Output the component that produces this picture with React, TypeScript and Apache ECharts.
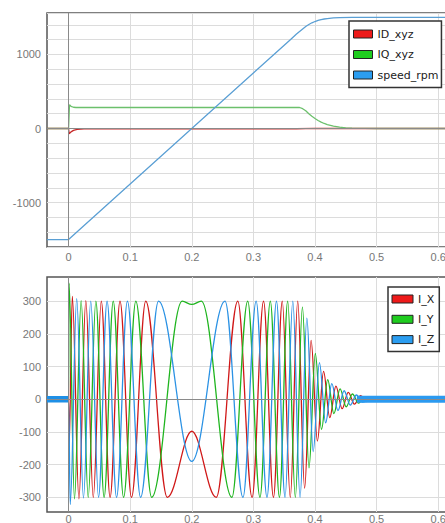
import React, { useEffect, useRef } from "react";
import * as echarts from "echarts";

// ---------- top panel (dq currents and speed) ----------
const speedTimes = [-0.035, 0, 0.36, 0.37, 0.38, 0.385, 0.39, 0.395, 0.4, 0.405, 0.41, 0.415, 0.42, 0.43, 0.44, 0.46, 0.65];
const speedValues = [-1500, -1500, 1200, 1275, 1345, 1378, 1405, 1428, 1445, 1460, 1470, 1479, 1485, 1493, 1497, 1500, 1500];

const iqTimes = [-0.035, 0, 0.0015, 0.004, 0.008, 0.012, 0.375, 0.38, 0.385, 0.39, 0.395, 0.4, 0.405, 0.41, 0.415, 0.42, 0.43, 0.44, 0.45, 0.46, 0.48, 0.5, 0.65];
const iqValues = [0, 0, 320, 300, 287, 284, 284, 268, 240, 200, 165, 135, 108, 86, 68, 54, 33, 18, 9, 4, 1, 0, 0];

const idTimes = [-0.035, 0, 0.001, 0.004, 0.008, 0.014, 0.025, 0.05, 0.37, 0.4, 0.45, 0.65];
const idValues = [0, 0, -70, -45, -25, -12, -5, -3, -3, 2, 0, 0];

// ---------- bottom panel (phase currents, extrema) ----------
const ixTimes = [-0.035, 0, 0.0008, 0.0061, 0.0168, 0.028, 0.0401, 0.0531, 0.0674, 0.0835, 0.1021, 0.1253, 0.1603, 0.2, 0.2397, 0.2747, 0.2979, 0.3165, 0.3326, 0.3469, 0.3599, 0.372, 0.3832, 0.3937, 0.4039, 0.4139, 0.424, 0.434, 0.444, 0.454, 0.464, 0.474, 0.484, 0.49];
const ixValues = [0, 0, -150, 315, -305, 302, -300, 300, -300, 300, -300, 300, -300, -98, -300, 300, -300, 300, -300, 300, -300, 300, -272, 180, -128, 85, -56, 40, -29, 21, -15, 11, -7, 0];

const iyTimes = [-0.035, 0, 0.0008, 0.0096, 0.0204, 0.0319, 0.0443, 0.0577, 0.0725, 0.0893, 0.1092, 0.1349, 0.1844, 0.2, 0.2156, 0.2651, 0.2908, 0.3107, 0.3275, 0.3423, 0.3557, 0.3681, 0.3796, 0.3903, 0.4005, 0.4106, 0.4206, 0.4307, 0.4407, 0.4507, 0.4607, 0.4707, 0.4807, 0.49];
const iyValues = [0, 0, 355, -305, 302, -300, 300, -300, 300, -300, 300, -300, 300, 290, 300, -300, 300, -300, 300, -300, 300, -300, 282, -210, 140, -92, 60, -44, 32, -23, 16, -12, 8, 0];

const izTimes = [-0.035, 0, 0.0027, 0.0132, 0.0242, 0.036, 0.0486, 0.0625, 0.0779, 0.0955, 0.1169, 0.146, 0.2, 0.254, 0.2831, 0.3045, 0.3221, 0.3375, 0.3514, 0.364, 0.3758, 0.3868, 0.3971, 0.4072, 0.4173, 0.4273, 0.4373, 0.4473, 0.4573, 0.4673, 0.4773, 0.49];
const izValues = [0, 0, -322, 308, -302, 300, -300, 300, -300, 300, -300, 300, -190, 300, -300, 300, -300, 300, -300, 300, -300, 248, -160, 112, -72, 48, -35, 26, -18, 13, -9, 0];

// thick noise band of I_Z before start and after settling
const bandPreTimes = [-0.035, 0];
const bandPostTimes = [0.468, 0.65];
const bandValue = 0;

const xTickValues = [0, 0.1, 0.2, 0.3, 0.4, 0.5, 0.6];
const topYLabels = [-1000, 0, 1000];
const bottomYTicks = [-300, -200, -100, 0, 100, 200, 300];

const zip = (t: number[], v: number[]) => t.map((x, i) => [x, v[i]]);

const labelStyle = {
  color: "#777",
  fontSize: 11,
  fontFamily: "Liberation Sans, Arial, sans-serif",
  formatter: (v: number) => String(v),
};

export default function App() {
  const ref = useRef<HTMLDivElement>(null);
  useEffect(() => {
    if (!ref.current) return;
    const chart = echarts.init(ref.current, undefined, { renderer: "svg" });
    const xAxisBase = (gridIndex: number, margin: number) => ({
      type: "value",
      gridIndex,
      min: -0.035,
      max: 0.65,
      axisLine: { show: false },
      axisTick: { show: false, customValues: xTickValues },
      axisLabel: { ...labelStyle, margin, customValues: xTickValues },
      splitLine: { show: true, lineStyle: { color: "#dcdcdc", width: 1 } },
    });
    const zeroLines = {
      silent: true,
      symbol: "none",
      label: { show: false },
      animation: false,
      lineStyle: { color: "#8a8a8a", width: 1, type: "solid" },
      data: [{ yAxis: 0 }, { xAxis: 0 }],
    };
    const legendBase = {
      orient: "vertical",
      icon: "rect",
      itemWidth: 19,
      itemHeight: 8,
      itemGap: 7.5,
      selectedMode: false,
      backgroundColor: "#fff",
      borderColor: "#333",
      borderWidth: 1.5,
      borderRadius: 0,
      textStyle: { color: "#222", fontSize: 11, lineHeight: 13, fontFamily: "DejaVu Sans, sans-serif" },
      itemStyle: { borderColor: "#222", borderWidth: 1 },
    };
    const gridBase = {
      left: 47,
      width: 422,
      show: true,
      borderColor: "#555",
      borderWidth: 1.5,
      backgroundColor: "transparent",
      containLabel: false,
      outerBoundsMode: "none",
    };
    chart.setOption({
      animation: false,
      backgroundColor: "#fff",
      grid: [
        { ...gridBase, top: 13, height: 234 },
        { ...gridBase, top: 277, height: 235 },
      ],
      xAxis: [xAxisBase(0, 4), xAxisBase(1, 1)],
      yAxis: [
        {
          type: "value",
          gridIndex: 0,
          min: -1600,
          max: 1560,
          interval: 200,
          axisLine: { show: false },
          axisTick: { show: false },
          axisLabel: { ...labelStyle, margin: 6, customValues: topYLabels },
          splitLine: { show: true, lineStyle: { color: "#dcdcdc", width: 1 } },
        },
        {
          type: "value",
          gridIndex: 1,
          min: -345,
          max: 374,
          axisLine: { show: false },
          axisTick: { show: false, customValues: bottomYTicks },
          axisLabel: { ...labelStyle, margin: 6, customValues: bottomYTicks },
          splitLine: { show: true, lineStyle: { color: "#dcdcdc", width: 1 } },
        },
      ],
      legend: [
        {
          ...legendBase,
          left: 349,
          top: 21,
          padding: [6.5, 3, 6, 4],
          data: [
            { name: "ID_xyz", itemStyle: { color: "#ee1a1a" } },
            { name: "IQ_xyz", itemStyle: { color: "#1fcc1f" } },
            { name: "speed_rpm", itemStyle: { color: "#2b9df0" } },
          ],
        },
        {
          ...legendBase,
          left: 388,
          top: 287,
          itemWidth: 21,
          itemGap: 7.3,
          padding: [5.5, 5, 5.5, 3.5],
          data: [
            { name: "I_X", itemStyle: { color: "#ee1a1a" } },
            { name: "I_Y", itemStyle: { color: "#1fcc1f" } },
            { name: "I_Z", itemStyle: { color: "#2b9df0" } },
          ],
        },
      ],
      series: [
        {
          name: "ID_xyz",
          type: "line",
          xAxisIndex: 0,
          yAxisIndex: 0,
          showSymbol: false,
          color: "#c62828",
          lineStyle: { width: 1.3, color: "#c62828" },
          data: zip(idTimes, idValues),
          markLine: zeroLines,
          z: 3,
        },
        {
          name: "IQ_xyz",
          type: "line",
          xAxisIndex: 0,
          yAxisIndex: 0,
          showSymbol: false,
          color: "#6cc06c",
          lineStyle: { width: 1.3, color: "#6cc06c" },
          data: zip(iqTimes, iqValues),
          z: 3,
        },
        {
          name: "speed_rpm",
          type: "line",
          xAxisIndex: 0,
          yAxisIndex: 0,
          showSymbol: false,
          color: "#5a9fd4",
          lineStyle: { width: 1.3, color: "#5a9fd4" },
          data: zip(speedTimes, speedValues),
          z: 3,
        },
        {
          name: "I_X",
          type: "line",
          xAxisIndex: 1,
          yAxisIndex: 1,
          showSymbol: false,
          smooth: 0.36,
          smoothMonotone: "x",
          color: "#d01818",
          lineStyle: { width: 1.3, color: "#d01818" },
          data: zip(ixTimes, ixValues),
          markLine: zeroLines,
          z: 3,
        },
        {
          name: "I_Y",
          type: "line",
          xAxisIndex: 1,
          yAxisIndex: 1,
          showSymbol: false,
          smooth: 0.36,
          smoothMonotone: "x",
          color: "#1fb51f",
          lineStyle: { width: 1.3, color: "#1fb51f" },
          data: zip(iyTimes, iyValues),
          z: 3,
        },
        {
          name: "I_Z",
          type: "line",
          xAxisIndex: 1,
          yAxisIndex: 1,
          showSymbol: false,
          smooth: 0.36,
          smoothMonotone: "x",
          color: "#2b92e4",
          lineStyle: { width: 1.3, color: "#2b92e4" },
          data: zip(izTimes, izValues),
          z: 3,
        },
        {
          name: "I_Z band pre",
          type: "line",
          xAxisIndex: 1,
          yAxisIndex: 1,
          showSymbol: false,
          color: "#1e8fe6",
          lineStyle: { width: 6.5, color: "#1e8fe6", cap: "butt" },
          data: bandPreTimes.map((t) => [t, bandValue]),
          z: 4,
        },
        {
          name: "I_Z band post",
          type: "line",
          xAxisIndex: 1,
          yAxisIndex: 1,
          showSymbol: false,
          color: "#2b9af0",
          lineStyle: { width: 7, color: "#2b9af0", cap: "butt" },
          data: bandPostTimes.map((t) => [t, bandValue]),
          z: 4,
        },
      ],
    });
    return () => chart.dispose();
  }, []);
  return <div ref={ref} style={{ position: "fixed", left: 0, top: 0, width: 445, height: 523 }} />;
}
